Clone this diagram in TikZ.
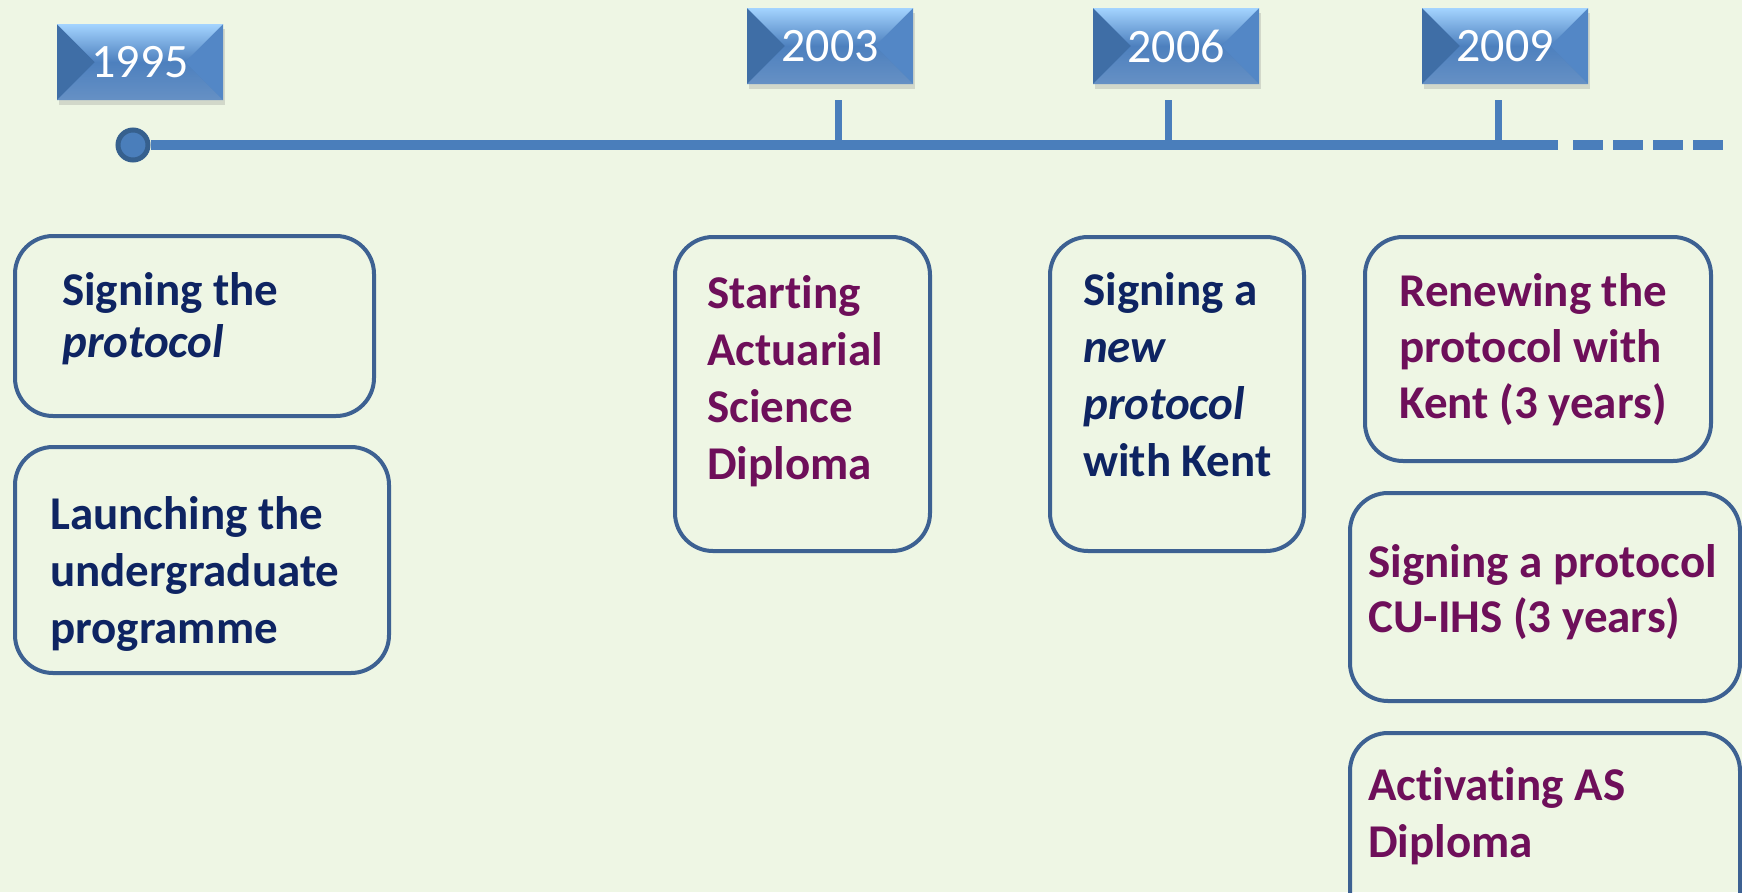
\documentclass[tikz,border=0pt]{standalone}
\usepackage{fontspec}
\setmainfont{Carlito}[Ligatures=NoCommon]
\usetikzlibrary{shadows}
\definecolor{bg}{HTML}{EEF6E4}
\definecolor{line}{HTML}{4A7EBB}
\definecolor{dotedge}{HTML}{36608E}
\definecolor{boxedge}{HTML}{3D6192}
\definecolor{navy}{HTML}{0E2462}
\definecolor{plum}{HTML}{6E0F5A}
\definecolor{yrbase}{HTML}{4D80BE}
\definecolor{yrleft}{HTML}{3F6EA6}
\definecolor{yrright}{HTML}{5387C6}
\definecolor{yrtop}{HTML}{A4D4FF}
\definecolor{yrbot}{HTML}{4B7DBA}
\begin{document}
\begin{tikzpicture}[x=1pt,y=-1pt,
  yearbox/.style={minimum width=166pt, minimum height=76pt, inner sep=0pt,
    fill=yrbase, text=white, font=\fontsize{48}{52}\selectfont,
    drop shadow={shadow xshift=2pt, shadow yshift=-5pt, opacity=0.25},
    path picture={
      \fill[yrleft] (path picture bounding box.north west) -- (path picture bounding box.south west)
        -- ([xshift=38pt]path picture bounding box.west) -- cycle;
      \fill[yrright] (path picture bounding box.north east) -- (path picture bounding box.south east)
        -- ([xshift=-38pt]path picture bounding box.east) -- cycle;
      \shade[top color=yrtop, bottom color=yrbase] (path picture bounding box.north west)
        -- (path picture bounding box.north east) -- ([xshift=-38pt]path picture bounding box.east)
        -- ([xshift=38pt]path picture bounding box.west) -- cycle;
      \shade[top color=yrbase, bottom color=yrbot!85!white] ([xshift=38pt]path picture bounding box.west)
        -- ([xshift=-38pt]path picture bounding box.east) -- (path picture bounding box.south east)
        -- (path picture bounding box.south west) -- cycle;
    }},
  evbox/.style={draw=boxedge, line width=4pt, rounded corners=38pt, inner sep=0pt, anchor=north west},
  evtext/.style={anchor=base west, align=left, inner sep=0pt, font=\bfseries\fontsize{47}{57}\selectfont},
  tick/.style={draw=line, line width=7pt},
]
\fill[bg] (0,0) rectangle (1742,892);
\clip (0,0) rectangle (1742,892);

% timeline
\coordinate (tlend) at (1558,145);
\coordinate (dashstart) at (1573,145);
\coordinate (dashend) at (1723,145);
\node[circle, fill=line, draw=dotedge, line width=5pt, minimum size=30pt, inner sep=0pt] (dot) at (133,145) {};
\draw[line, line width=10pt] (dot.east) -- (tlend);
\draw[line, line width=10pt, dash pattern=on 30pt off 10pt] (dashstart) -- (dashend);

% year boxes
\node[yearbox] (y1995) at (140,62) {1995};
\node[yearbox] (y2003) at (830,46) {2003};
\node[yearbox] (y2006) at (1176,46) {2006};
\node[yearbox] (y2009) at (1505,46) {2009};

% ticks
\coordinate (t03a) at (838,100); \coordinate (t03b) at (838,145);
\coordinate (t06a) at (1168,100); \coordinate (t06b) at (1168,145);
\coordinate (t09a) at (1498,100); \coordinate (t09b) at (1498,145);
\draw[tick] (t03a) -- (t03b);
\draw[tick] (t06a) -- (t06b);
\draw[tick] (t09a) -- (t09b);

% event boxes
\node[evbox, minimum width=359pt, minimum height=180pt] (b1) at (13,234) {};
\node[evbox, minimum width=374pt, minimum height=226pt] (b2) at (13,445) {};
\node[evbox, minimum width=255pt, minimum height=314pt] (b3) at (673,235) {};
\node[evbox, minimum width=254pt, minimum height=314pt] (b4) at (1048,235) {};
\node[evbox, minimum width=346pt, minimum height=224pt] (b5) at (1363,235) {};
\node[evbox, minimum width=390pt, minimum height=208pt] (b6) at (1348,491) {};
\node[evbox, minimum width=390pt, minimum height=200pt] (b7) at (1348,731) {};

% texts (anchor = baseline of the last line)
\node[evtext, text=navy, font=\bfseries\fontsize{47}{52}\selectfont] (t1) at (62,357) {Signing the\\\textit{protocol}};
\node[evtext, text=navy] (t2) at (50,643) {Launching the\\undergraduate\\programme};
\node[evtext, text=plum] (t3) at (707,479) {Starting\\Actuarial\\Science\\Diploma};
\node[evtext, text=navy] (t4) at (1083,476) {Signing a\\\textit{new}\\\textit{protocol}\\with Kent};
\node[evtext, text=plum, font=\bfseries\fontsize{47}{56}\selectfont] (t5) at (1399,418) {Renewing the\\protocol with\\Kent (3 years)};
\node[evtext, text=plum, font=\bfseries\fontsize{47}{55}\selectfont] (t6) at (1368,632) {Signing a protocol\\CU-IHS (3 years)};
\node[evtext, text=plum] (t7) at (1368,857) {Activating AS\\Diploma};
\end{tikzpicture}
\end{document}
